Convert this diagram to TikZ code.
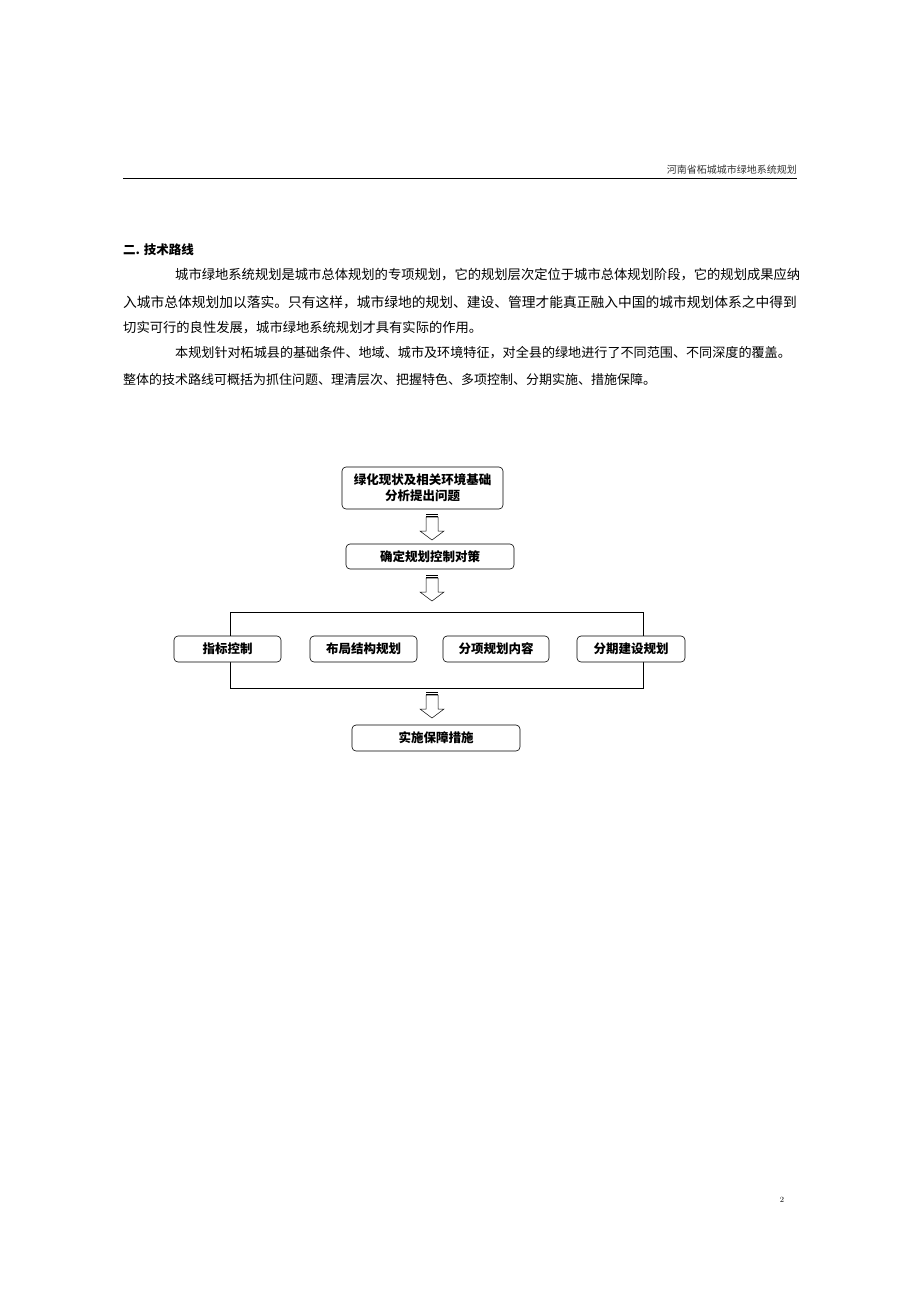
\documentclass[tikz,border=0pt]{standalone}
\usepackage{fontspec}
\newfontfamily\cjk{Noto Sans CJK SC}
\usetikzlibrary{positioning}
\begin{document}
\begin{tikzpicture}[x=1pt,y=-1pt,font=\cjk]
    \tikzstyle{stage box}=[draw,rounded corners=4pt,inner sep=0pt,align=center,
        font=\cjk\bfseries\fontsize{12.5}{16}\selectfont,line width=0.6pt]
    \tikzstyle{para}=[anchor=west,inner sep=0pt,font=\cjk\fontsize{13.3}{15}\selectfont]
    \tikzset{pics/hollow/.style={code={
        \draw[line width=0.5pt,fill=white] (-6,-9) -- (6,-9) -- (6,5) -- (12,5)
            -- (0,14) -- (-12,5) -- (-6,5) -- cycle;
        \draw[line width=0.8pt] (-6,-11.5) -- (6,-11.5) (-6,-9.5) -- (6,-9.5);
    }}}
    \useasboundingbox (0,0) rectangle (920,1302);

    % header
    \node[anchor=east,inner sep=0pt,font=\cjk\fontsize{10}{12}\selectfont,text=black!80]
        (head) at (797,170) {河南省柘城城市绿地系统规划};
    \draw[line width=0.8pt] (123,178) -- (797,178);

    % text
    \node[anchor=west,inner sep=0pt,font=\cjk\bfseries\fontsize{12.5}{15}\selectfont]
        (title) at (123,250) {二. 技术路线};
    \node[para] (p1) at (175,275) {城市绿地系统规划是城市总体规划的专项规划，它的规划层次定位于城市总体规划阶段，它的规划成果应纳};
    \node[para,font=\cjk\fontsize{13.75}{15}\selectfont] (p2) at (123,302) {入城市总体规划加以落实。只有这样，城市绿地的规划、建设、管理才能真正融入中国的城市规划体系之中得到};
    \node[para] (p3) at (123,328) {切实可行的良性发展，城市绿地系统规划才具有实际的作用。};
    \node[para,font=\cjk\fontsize{13.1}{15}\selectfont] (p4) at (175,353) {本规划针对柘城县的基础条件、地域、城市及环境特征，对全县的绿地进行了不同范围、不同深度的覆盖。};
    \node[para,font=\cjk\fontsize{13}{15}\selectfont] (p5) at (123,380) {整体的技术路线可概括为抓住问题、理清层次、把握特色、多项控制、分期实施、措施保障。};

    % flow chart
    \node[stage box,minimum width=161,minimum height=42] (base) at (422.5,488) {绿化现状及相关环境基础\\分析提出问题};
    \node[stage box,minimum width=168,minimum height=25] (plan) at (430,556.5) {确定规划控制对策};
    \draw[line width=0.8pt] (230,612) rectangle (643,688);
    \node[stage box,fill=white,minimum width=107,minimum height=26] (idx) at (227.5,649) {指标控制};
    \node[stage box,fill=white,minimum width=107,minimum height=26] (lay) at (363.5,649) {布局结构规划};
    \node[stage box,fill=white,minimum width=106,minimum height=26] (sub) at (496,649) {分项规划内容};
    \node[stage box,fill=white,minimum width=108,minimum height=26] (phase) at (631,649) {分期建设规划};
    \node[stage box,minimum width=168,minimum height=26] (safe) at (436,738) {实施保障措施};

    % hollow arrows
    \pic at (432,526) {hollow};
    \pic at (432,587) {hollow};
    \pic at (432,704) {hollow};

    % page number
    \node[inner sep=0pt,font=\fontsize{8}{10}\selectfont] (page) at (782,1200) {2};
\end{tikzpicture}
\end{document}
